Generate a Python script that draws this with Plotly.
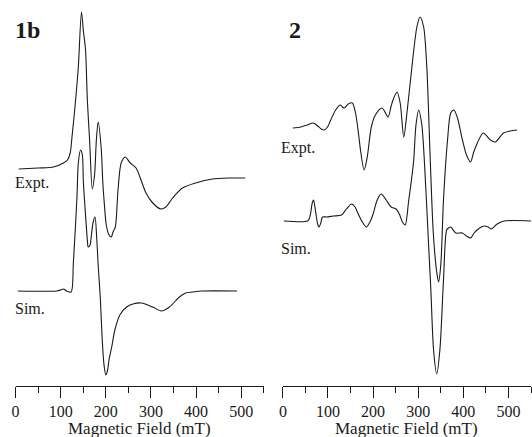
import plotly.graph_objects as go

# ---- data (field in mT, signal in arbitrary units) ----

# 1b, experimental
field_1b_expt = [7, 50, 84, 106, 115, 121, 125, 133, 139, 146, 150, 155, 159, 164,
                 170, 175, 179, 183, 190, 193, 196, 201, 207, 212, 216, 221, 227,
                 234, 243, 254, 267, 278, 289, 304, 322, 333, 348, 370, 399, 436,
                 474, 509]
signal_1b_expt = [1, 2, 3, 7, 10, 17, 33, 70, 103, 158, 140, 120, 70, 30,
                  -19, -5, 30, 48, 20, -10, -30, -55, -65, -67, -62, -57, -20,
                  7, 13, 7, 2, -10, -23, -33, -39, -37, -28, -18, -13, -9,
                  -8, -8]

# 1b, simulated
field_1b_sim = [5, 91, 100, 106, 113, 123, 128, 136, 139, 144, 148, 150, 155, 159,
                161, 165, 168, 172, 176, 180, 183, 188, 192, 196, 200, 204, 207,
                213, 220, 231, 246, 260, 279, 304, 323, 341, 363, 377, 392, 414,
                491]
signal_1b_sim = [0, 0, 1, 2, 0, -1, 28, 94, 128, 141, 136, 111, 76, 51,
                 44, 46, 56, 69, 74, 51, 26, -9, -49, -74, -84, -79, -69,
                 -56, -39, -24, -16, -13, -12, -16, -20, -16, -6, -2, -1, 0,
                 0]

# 2, experimental
field_2_expt = [22, 40, 54, 66, 72, 77, 85, 92, 99, 106, 117, 127, 132, 136, 145,
                154, 161, 168, 172, 180, 187, 196, 205, 220, 233, 240, 244, 253,
                260, 268, 275, 286, 297, 304, 312, 319, 326, 330, 333, 337, 341,
                345, 350, 356, 365, 372, 379, 387, 398, 407, 416, 423, 431, 444,
                460, 471, 489, 504, 519]
signal_2_expt = [0, 1, 3, 5, 4, 2, -1, -2, 1, 8, 18, 23, 21, 20, 24,
                 25, 15, -7, -22, -42, -29, 1, 13, 20, 11, 22, 28, 36,
                 25, -9, 15, 61, 101, 111, 101, 61, -24, -72, -102, -127, -144,
                 -154, -137, -72, -12, 15, 18, 10, -12, -27, -34, -24, -15, -5,
                 -12, -14, -5, -3, -2]

# 2, simulated
field_2_sim = [2, 55, 59, 62, 65, 68, 71, 74, 77, 80, 84, 88, 97, 112, 130, 141,
               152, 160, 167, 176, 185, 193, 200, 209, 218, 229, 240, 251, 258,
               265, 271, 279, 285, 290, 295, 301, 308, 317, 323, 328, 334, 341,
               348, 356, 363, 367, 372, 383, 398, 407, 416, 424, 436, 447, 455,
               462, 475, 491, 550]
signal_2_sim = [0, 0, 3, 9, 18, 21, 14, 5, -3, -6, -2, 4, 4, 5, 6, 12,
                17, 14, 7, -1, -6, -1, 7, 21, 27, 21, 14, 12, 7,
                -1, -4, 21, 41, 61, 96, 111, 96, 31, -24, -69, -129, -153,
                -129, -59, -9, -7, -6, -12, -12, -15, -17, -12, -7, -5, -6,
                -8, -3, 0, 0]

# vertical stacking of the traces (baseline heights)
offset_1b_expt = 216
offset_1b_sim = 95
offset_2_expt = 258
offset_2_sim = 165

FONT = "Liberation Serif"
INK = "#1a1a1a"
W, H = 532, 437
PLOT_H = 386  # plot area height in px (y range maps 1:1)
LEFT_DOM = (11.7, 261.7)
RIGHT_DOM = (281, 531)


def px_x(p):
    return p / W


def px_y(p):
    return (PLOT_H - p) / PLOT_H


def spectrum(field, signal, offset, xaxis, yaxis):
    return go.Scatter(
        x=field,
        y=[s + offset for s in signal],
        mode="lines",
        line=dict(color=INK, width=1.1, shape="spline", smoothing=0.8),
        xaxis=xaxis,
        yaxis=yaxis,
        showlegend=False,
        hoverinfo="skip",
    )


fig = go.Figure()
fig.add_trace(spectrum(field_1b_expt, signal_1b_expt, offset_1b_expt, "x", "y"))
fig.add_trace(spectrum(field_1b_sim, signal_1b_sim, offset_1b_sim, "x", "y"))
fig.add_trace(spectrum(field_2_expt, signal_2_expt, offset_2_expt, "x2", "y2"))
fig.add_trace(spectrum(field_2_sim, signal_2_sim, offset_2_sim, "x2", "y2"))

xaxis_style = dict(
    range=[0, 550],
    showgrid=False,
    zeroline=False,
    showline=True,
    linecolor=INK,
    linewidth=1,
    ticks="outside",
    ticklen=11,
    tickwidth=1,
    tickcolor=INK,
    tick0=0,
    dtick=100,
    minor=dict(ticks="outside", ticklen=6, tickwidth=1, tickcolor=INK, dtick=50, tick0=0),
    tickfont=dict(family=FONT, size=16, color=INK),
    fixedrange=True,
)
yaxis_style = dict(range=[0, PLOT_H], visible=False, fixedrange=True)

fig.update_layout(
    width=W,
    height=H,
    margin=dict(l=0, r=0, t=0, b=H - PLOT_H),
    paper_bgcolor="white",
    plot_bgcolor="white",
    xaxis=dict(domain=[px_x(LEFT_DOM[0]), px_x(LEFT_DOM[1])], anchor="y", **xaxis_style),
    xaxis2=dict(domain=[px_x(RIGHT_DOM[0]), px_x(RIGHT_DOM[1])], anchor="y2", **xaxis_style),
    yaxis=dict(domain=[0, 1], anchor="x", **yaxis_style),
    yaxis2=dict(domain=[0, 1], anchor="x2", **yaxis_style),
)

labels = [
    ("<b>1b</b>", 9, 30, 24, "left"),
    ("<b>2</b>", 285, 30, 24, "left"),
    ("Expt.", 9, 183, 16, "left"),
    ("Sim.", 9, 308, 16, "left"),
    ("Expt.", 277, 148, 16, "left"),
    ("Sim.", 277, 248, 16, "left"),
    ("Magnetic Field (mT)", sum(LEFT_DOM) / 2, 428, 17, "center"),
    ("Magnetic Field (mT)", sum(RIGHT_DOM) / 2, 428, 17, "center"),
]
for text, x, y, size, anchor in labels:
    fig.add_annotation(
        text=text, x=px_x(x), y=px_y(y), xref="paper", yref="paper",
        xanchor=anchor, yanchor="middle", showarrow=False,
        font=dict(family=FONT, size=size, color=INK),
    )

# the page body has a default 8px margin; drop it so the figure fills the window
fig.write_html(
    "out.html",
    config={"displayModeBar": False},
    post_script="document.body.style.margin='0';",
)
